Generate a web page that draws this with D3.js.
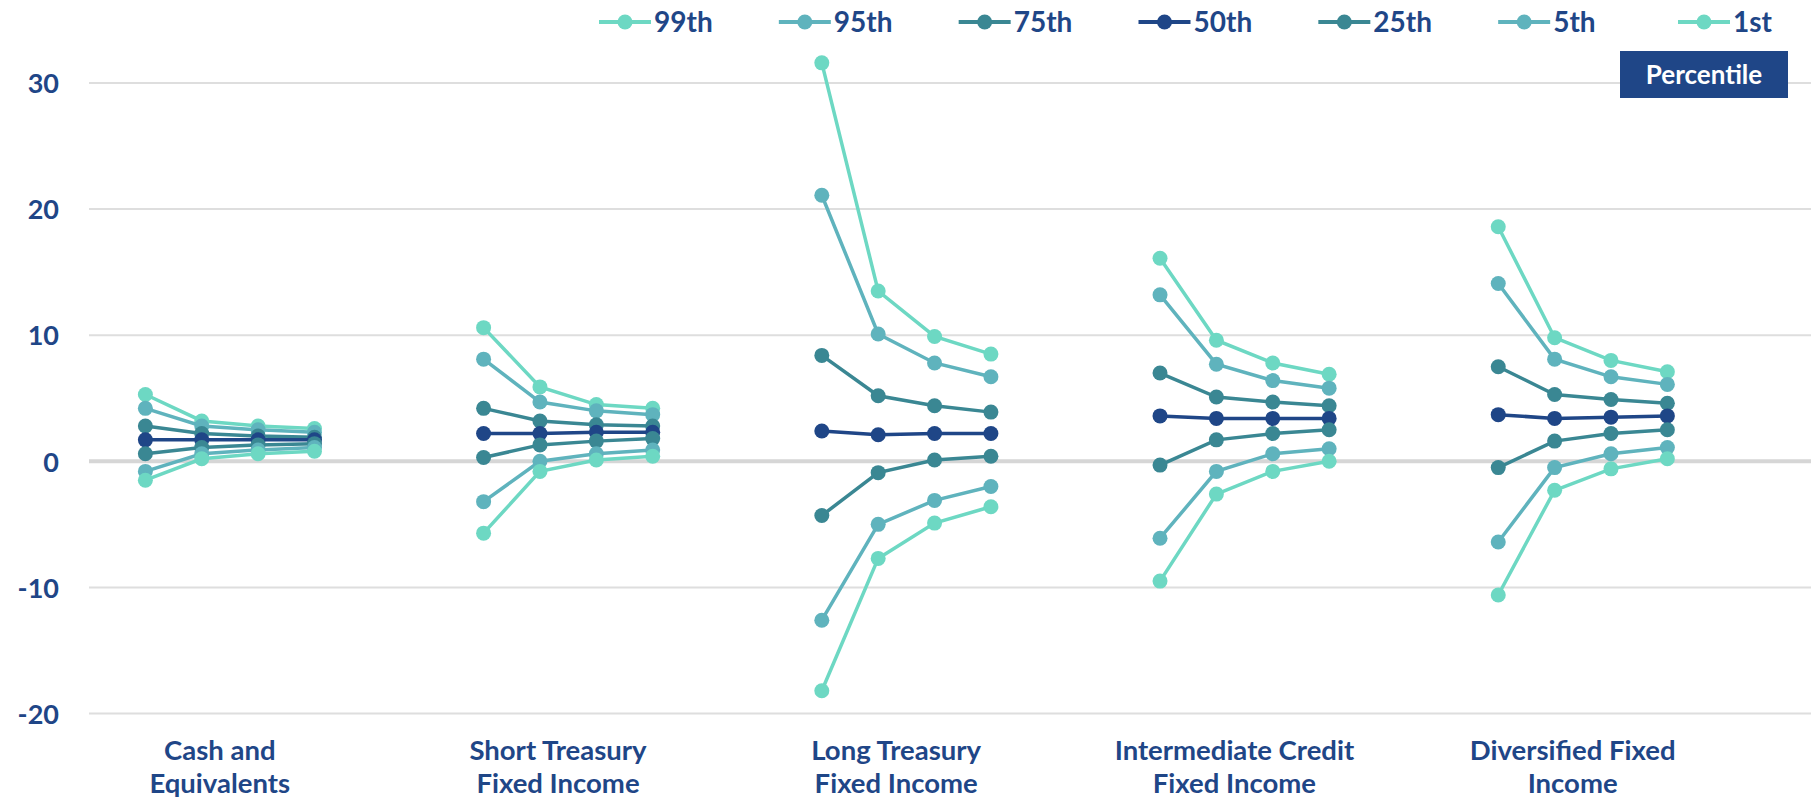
<!DOCTYPE html>
<html>
<head>
<meta charset="utf-8">
<script src="https://cdn.jsdelivr.net/npm/d3@7"></script>
<style>
  html, body { margin: 0; padding: 0; background: #ffffff; }
  svg { display: block; }
</style>
</head>
<body>
<svg id="chart" width="1811" height="798"></svg>
<script>
// ---------------- data ----------------
const categories = [
  ["Cash and", "Equivalents"],
  ["Short Treasury", "Fixed Income"],
  ["Long Treasury", "Fixed Income"],
  ["Intermediate Credit", "Fixed Income"],
  ["Diversified Fixed", "Income"]
];
const seriesNames = ["99th", "95th", "75th", "50th", "25th", "5th", "1st"];
const yTicks = [-20, -10, 0, 10, 20, 30];

// four points per category (category order as above)
const p99 = [5.3, 3.2, 2.8, 2.6,   10.6, 5.9, 4.5, 4.2,   31.6, 13.5, 9.9, 8.5,   16.1, 9.6, 7.8, 6.9,   18.6, 9.8, 8.0, 7.1];
const p95 = [4.2, 2.8, 2.5, 2.3,   8.1, 4.7, 4.0, 3.7,    21.1, 10.1, 7.8, 6.7,   13.2, 7.7, 6.4, 5.8,   14.1, 8.1, 6.7, 6.1];
const p75 = [2.8, 2.2, 2.0, 1.9,   4.2, 3.2, 2.9, 2.8,    8.4, 5.2, 4.4, 3.9,     7.0, 5.1, 4.7, 4.4,    7.5, 5.3, 4.9, 4.6];
const p50 = [1.7, 1.7, 1.7, 1.7,   2.2, 2.2, 2.3, 2.3,    2.4, 2.1, 2.2, 2.2,     3.6, 3.4, 3.4, 3.4,    3.7, 3.4, 3.5, 3.6];
const p25 = [0.6, 1.1, 1.3, 1.4,   0.3, 1.3, 1.6, 1.8,    -4.3, -0.9, 0.1, 0.4,   -0.3, 1.7, 2.2, 2.5,   -0.5, 1.6, 2.2, 2.5];
const p5  = [-0.8, 0.6, 0.9, 1.1,  -3.2, 0.0, 0.6, 0.9,   -12.6, -5.0, -3.1, -2.0, -6.1, -0.8, 0.6, 1.0, -6.4, -0.5, 0.6, 1.1];
const p1  = [-1.5, 0.2, 0.6, 0.8,  -5.7, -0.8, 0.1, 0.4,  -18.2, -7.7, -4.9, -3.6, -9.5, -2.6, -0.8, 0.0, -10.6, -2.3, -0.6, 0.2];

const seriesValues = [p99, p95, p75, p50, p25, p5, p1];
const seriesColors = ["#6dd8c3", "#5fb3bd", "#3a8793", "#1f4687", "#3a8793", "#5fb3bd", "#6dd8c3"];

// ---------------- layout ----------------
const W = 1811, H = 798;
const textColor = "#1f4687";
const font = "Lato, 'Open Sans', sans-serif";
const pointsPerCat = 4, slotsPerCat = 6;

const svg = d3.select("#chart");

// slot scale: slot index -> x
const x = d3.scaleLinear().domain([0, 30]).range([89, 89 + 56.37 * 30]);
const y = d3.scaleLinear().domain([-20, 30]).range([713.5, 83]);

// gridlines
const grid = svg.append("g");
grid.selectAll("line").data(yTicks).join("line")
  .attr("x1", 89).attr("x2", W)
  .attr("y1", d => y(d)).attr("y2", d => y(d))
  .attr("stroke", d => d === 0 ? "#d6d6d6" : "#dedede")
  .attr("stroke-width", d => d === 0 ? 4 : 2);

// y axis labels
const yAxis = d3.axisLeft(y).tickValues(yTicks).tickSize(0).tickPadding(0).tickFormat(d => String(d));
const yg = svg.append("g").attr("transform", "translate(59,0)").call(yAxis);
yg.select(".domain").remove();
yg.selectAll("text")
  .attr("fill", textColor)
  .style("font-family", font)
  .style("font-weight", 700)
  .style("font-size", "27px")
  .attr("dy", "0.36em");

// category labels
const catLabels = svg.append("g");
categories.forEach((lines, j) => {
  const cx = x(j * slotsPerCat + 2.32);
  const t = catLabels.append("text")
    .attr("x", cx).attr("y", 760)
    .attr("text-anchor", "middle")
    .attr("fill", textColor)
    .style("font-family", font)
    .style("font-weight", 700)
    .style("font-size", "27.5px");
  lines.forEach((ln, i) => {
    t.append("tspan").attr("x", cx).attr("y", 760 + i * 33).text(ln);
  });
});

// series
const slotOf = i => Math.floor(i / pointsPerCat) * slotsPerCat + 1 + (i % pointsPerCat);
const line = d3.line().x(d => x(d.k)).y(d => y(d.v));

seriesValues.forEach((vals, s) => {
  const g = svg.append("g");
  for (let c = 0; c < categories.length; c++) {
    const pts = [];
    for (let p = 0; p < pointsPerCat; p++) {
      const i = c * pointsPerCat + p;
      pts.push({ k: slotOf(i), v: vals[i] });
    }
    g.append("path").datum(pts)
      .attr("d", line)
      .attr("fill", "none")
      .attr("stroke", seriesColors[s])
      .attr("stroke-width", 3.5);
    g.selectAll(null).data(pts).join("circle")
      .attr("cx", d => x(d.k)).attr("cy", d => y(d.v))
      .attr("r", 7.5)
      .attr("fill", seriesColors[s]);
  }
});

// legend
const legX = d3.scaleLinear().domain([0, 6]).range([625, 1704]);
const leg = svg.append("g");
seriesNames.forEach((name, i) => {
  const cx = legX(i), cy = 22;
  leg.append("line").attr("x1", cx - 26).attr("x2", cx + 26)
    .attr("y1", cy).attr("y2", cy)
    .attr("stroke", seriesColors[i]).attr("stroke-width", 4);
  leg.append("circle").attr("cx", cx).attr("cy", cy).attr("r", 7.5).attr("fill", seriesColors[i]);
  leg.append("text").attr("x", cx + 29).attr("y", cy).attr("dy", "0.36em")
    .attr("fill", textColor)
    .style("font-family", font).style("font-weight", 700).style("font-size", "28px")
    .text(name);
});

// Percentile box
svg.append("rect").attr("x", 1620).attr("y", 51).attr("width", 168).attr("height", 47)
  .attr("fill", "#1f4687");
svg.append("text").attr("x", 1704).attr("y", 75).attr("dy", "0.36em")
  .attr("text-anchor", "middle").attr("fill", "#ffffff")
  .style("font-family", font).style("font-weight", 700).style("font-size", "26px")
  .text("Percentile");
</script>
</body>
</html>
